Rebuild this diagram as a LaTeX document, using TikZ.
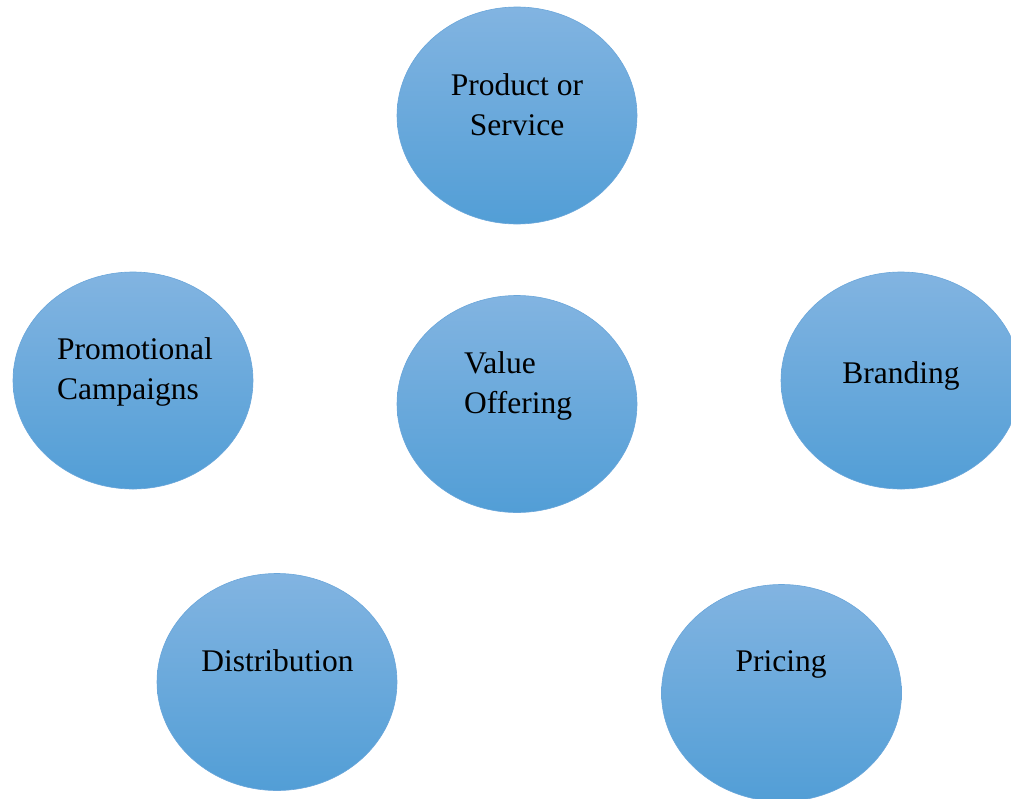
\documentclass[tikz,border=0pt]{standalone}
\usepackage{fontspec}
\setmainfont{Liberation Serif}
\usetikzlibrary{shapes.geometric}
\begin{document}
\begin{tikzpicture}[x=1pt,y=-1pt,
  bubble/.style={ellipse, minimum width=240pt, minimum height=217pt, inner sep=0pt,
    draw=bubbleedge, line width=0.6pt, top color=bubbletop, bottom color=bubblebot},
  lbl/.style={font=\fontsize{31.5}{40}\selectfont, inner sep=0pt, anchor=base}
]
\definecolor{bubbletop}{HTML}{82B4E1}
\definecolor{bubblebot}{HTML}{529ED6}
\definecolor{bubbleedge}{HTML}{6AA6DA}
\useasboundingbox (0,0) rectangle (1011,798);
\begin{scope}
\clip (0,0) rectangle (1011,798);
\node[bubble] (prod) at (517,115.5) {};
\node[bubble] (value) at (517,404) {};
\node[bubble] (promo) at (133,380.5) {};
\node[bubble] (brand) at (901,380.5) {};
\node[bubble] (dist) at (277,682) {};
\node[bubble] (price) at (781.5,693) {};
\end{scope}
\node[lbl, align=center] (tprod) at (517,135) {Product or\\Service};
\node[lbl, align=left, anchor=base west] (tvalue) at (464,413) {Value\\Offering};
\node[lbl, align=left, anchor=base west] (tpromo) at (57,399) {Promotional\\Campaigns};
\node[lbl] (tbrand) at (901,383) {Branding};
\node[lbl] (tdist) at (277.5,671) {Distribution};
\node[lbl] (tprice) at (781,671) {Pricing};
\end{tikzpicture}
\end{document}
